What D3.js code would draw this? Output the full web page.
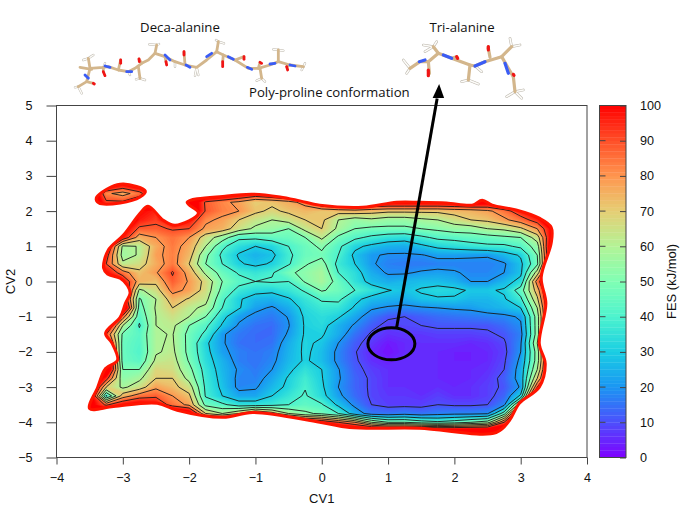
<!DOCTYPE html>
<html>
<head>
<meta charset="utf-8">
<script src="https://cdn.jsdelivr.net/npm/d3@7"></script>
<style>
  html, body { margin: 0; background: #fff; }
  svg { display: block; }
  text { font-family: "Liberation Sans", Arial, sans-serif; font-size: 13px; fill: #111; }
  .tick text { font-size: 12.6px; }
  .caption { font-family: "Open Sans", sans-serif; font-size: 13.2px; }
</style>
</head>
<body>
<svg width="681" height="512"></svg>
<script>
const cv1Ticks = [-4, -3, -2, -1, 0, 1, 2, 3, 4];
const cv2Ticks = [5, 4, 3, 2, 1, 0, -1, -2, -3, -4, -5];
const fesTicks = [0, 10, 20, 30, 40, 50, 60, 70, 80, 90, 100];
const fesContours = [10, 20, 30, 40, 50, 60, 70, 80, 90];
const fesStops = [0, 10, 20, 30, 40, 50, 60, 70, 80, 90, 100];
const fesColors = ['#8000ff', '#4d4ffc', '#1a96f3', '#1acee3', '#4df3ce', '#80ffb4', '#b3f396', '#e6ce74', '#ff964f', '#ff4f28', '#ff0000'];

// grid the FES was read on, 120 = outside the sampled region
const cv1Grid = d3.range(-3.75, 3.76, 0.25);
const cv2Grid = d3.range(3, -4.51, -0.25);
const fesRows = [
  [120,120,120,120,120,120,120,120,120,120,120,120,120,120,120,120,120,120,120,120,120,120,120,120,120,120,120,120,120,120,120],
  [120,120,110,100,110,120,120,120,120,120,120,120,120,120,120,120,120,120,120,120,120,120,120,120,120,120,120,120,120,120,120],
  [120,120,82,76,85,110,120,120,120,115,105,100,105,112,120,120,120,120,120,120,120,120,120,120,120,120,120,120,120,120,120],
  [120,120,92,92,100,120,120,115,88,82,78,70,72,76,84,105,112,112,106,104,104,104,104,105,108,105,115,120,120,120,120],
  [120,120,120,120,100,96,120,115,89,83,80,72,68,72,74,72,74,76,74,72,72,72,72,74,75,78,85,97,120,120,120],
  [120,120,120,120,97,92,108,98,82,78,70,64,60,64,70,72,60,55,58,55,55,58,60,65,70,72,78,85,95,120,120],
  [120,120,120,105,88,88,91,90,78,75,65,58,55,50,63,70,58,50,48,48,48,50,52,55,55,60,62,68,80,105,120],
  [120,120,120,98,75,80,85,80,65,55,42,42,45,46,50,62,48,42,38,35,34,38,42,43,45,46,48,50,65,110,120],
  [120,120,105,58,60.5,76,84,76,60,42,34,30,32,40,46,52,42,32,28,25,24,28,32,34,36,38,38,42,55,120,120],
  [120,120,95,56,61,78,83,74,52,38,29,25,28,38,46,48,40,28,21,19,19,19.5,22,22,21.5,21,26,31,50,120,120],
  [120,120,90,62,66,76,84,70,50,40,31,28,31,39,49,54,37,30,21,17,16,16,17,17,17,17,19,28,48,120,120],
  [120,120,100,85,72,79,91,76,58,46,39,36,39,48,53,58,40,34,24,19,19,21,22,21,18,18,20,28,65,120,120],
  [120,120,120,100,75,72,88,79,67,50,43,40,41,40,51,58,46,35,27,24,26,27,27,25,20,20,26,33,85,120,120],
  [120,120,120,110,58,66,83,78,66,47,37,33,32,36,41,51,47,40,35,30.5,28,31,33,32,29,29,31,45,75,120,120],
  [120,120,120,105,49,60,75,69,63,42,31,26,25,29,36,41,42,32,27,25,24,28,29,29,26,26,29,38,68,120,120],
  [120,120,120,120,46,61,70,62,58,40,31,22,19,24,33,37,36,29,21,19,18,19,20,21,21.5,24,26,30,60,120,120],
  [120,120,120,85,43,60,65,60,50,33,22,18,16,20.5,31.5,34,31,23,16,11,10,12,14,15,16,17,18,21,55,120,120],
  [120,120,110,60,39,60,62,50,42,29,19,15,14,19.5,31,33,25,19,12,8,9,10,11,11,11,11,14,19,55,120,120],
  [120,120,90,48,43,59,60.5,47,38,21,16,14,14,21,31,31,24,15,9,6,7,7,8,8,8,9,11,17,55,120,120],
  [120,120,105,46,42,59,61,47,32,21,15,14,15,24,31.5,28.5,20,12,7,3,5,6,6,6,5,6,9,19,60,120,120],
  [120,120,110,46,41,59,62,47,33,22,17,15,17,25,31.5,27,18,10.5,5,2,5,6,5,4,4,5,8,20,55,120,120],
  [120,120,120,46,43,62,64,49,34,25,17,15,18,26,31,27,18,11,6,4,6,6,5,4,4,5,9,22,55,120,120],
  [120,120,120,50,50,68,66,53,36,26,19,16,20,28,35,30,20.5,12,8,6,6,6,5,5,5,6,10,24,60,120,120],
  [120,120,95,53,58,70,70,57,37,27,18,17,23,31,38,30.5,21,13,9,6,6,6,5,5,5,7,12,24,70,120,120],
  [120,120,70,58,65,78,73,65,38,28,18,19,26,32,39.5,31.5,20,13,9,6,6,6,6,5,6,8,11,21,90,120,120],
  [120,115,38,75,85,88,80,72,39,30,23,23,30,36,41,33,22,14,9,7,7,6,8,6,6,8,13,32,120,120,120],
  [120,105,88,100,105,100,85,78,47,42,35,35,37,40,44,41,28,18,10,8,8,8,10,9,9,10,18,70,120,120,120],
  [120,120,120,120,120,120,120,110,70,60,70,85,75,60,52,48,40,25,16,15,17,15,17,18,18,19,45,120,120,120,120],
  [120,120,120,120,120,120,120,120,120,120,120,120,120,120,105,100,90,80,60,50,50,45,42,45,50,55,90,120,120,120,120],
  [120,120,120,120,120,120,120,120,120,120,120,120,120,120,120,120,120,120,120,120,120,120,120,120,120,120,120,120,120,120,120],
  [120,120,120,120,120,120,120,120,120,120,120,120,120,120,120,120,120,120,120,120,120,120,120,120,120,120,120,120,120,120,120]
];

// outline of the sampled region, CV1 / CV2
const mainEdge = [[-3.5,-3.61],[-3.38,-3.01],[-3.26,-2.47],[-3.08,-2.24],[-3.16,-1.76],[-3.26,-1.47],[-3.04,-1.02],[-2.96,-.62],[-2.89,-.33],[-2.93,-.11],[-3.04,.09],[-3.23,.21],[-3.29,.38],[-3.22,.89],[-2.99,1.32],[-2.74,1.94],[-2.62,2.14],[-2.39,1.74],[-2.21,1.6],[-1.86,1.94],[-2.03,2.25],[-1.43,2.43],[-1.04,2.48],[-.63,2.4],[-.33,2.29],[-.03,2.17],[.62,2.11],[1.13,2.25],[1.47,2.25],[1.88,2.23],[2.27,2.17],[2.42,2.31],[2.57,2.17],[2.93,2.03],[3.28,1.8],[3.46,1.54],[3.46,1.09],[3.31,.12],[3.38,-.62],[3.28,-1.76],[3.37,-2.33],[3.28,-3],[2.98,-3.46],[2.83,-3.95],[2.63,-4.29],[1.47,-4.17],[.42,-4.15],[-.03,-4],[-1.04,-3.72],[-1.49,-3.86],[-2.18,-3.66],[-2.48,-3.46],[-3.14,-3.55]];
const islandEdge = [[-3.4,2.37],[-3.18,2.68],[-2.99,2.77],[-2.66,2.57],[-2.74,2.4],[-3.04,2.23],[-3.36,2.23]];

// molecule drawings, in their own little units
const decaChain = [[55,230],[80,215],[85,195],[90,175],[130,172],[145,170],[175,180],[205,185],[225,175],[245,160],[265,150],[285,130],[315,140],[345,155],[375,165],[410,172],[440,150],[470,125],[490,135],[525,150],[565,175],[595,175],[630,165],[655,155],[690,165],[730,170]];
const decaSide = [[[285,130],[290,105]],[[235,170],[240,205]],[[470,125],[475,95]],[[600,175],[605,205]],[[655,155],[655,120]],[[90,175],[85,145]],[[60,172],[95,178]]];
const decaNitrogen = [[[135,168],[150,172]],[[200,185],[215,185]],[[315,135],[330,150]],[[378,165],[390,172]],[[440,140],[455,130]],[[505,140],[520,148]],[[562,172],[575,178]],[[630,162],[645,160]],[[690,165],[705,168]],[[75,195],[85,205]]];
const decaOxygen = [[[130,185],[135,197]],[[182,150],[182,160]],[[237,147],[238,155]],[[318,155],[320,165]],[[372,125],[372,135]],[[488,155],[488,170]],[[552,140],[552,148]],[[600,157],[605,160]],[[680,170],[683,180]],[[100,220],[103,222]]];
const decaHydrogen = [[70,150],[100,135],[45,232],[65,250],[135,160],[210,195],[268,103],[297,102],[228,208],[255,210],[345,170],[405,197],[415,195],[468,90],[492,100],[590,212],[615,215],[640,118],[670,122],[735,160],[725,180]];
const triChain = [[90,175],[120,155],[145,155],[175,130],[215,145],[270,165],[285,168],[315,155],[365,140],[385,175],[400,200],[405,245]];
const triSide = [[[175,130],[160,110]],[[145,155],[148,190]],[[270,165],[265,210]],[[365,140],[395,110]],[[330,142],[325,115]]];
const triNitrogen = [[[118,155],[135,150]],[[190,135],[215,145]],[[285,168],[315,155]],[[375,160],[385,190]]];
const triOxygen = [[[145,180],[145,197]],[[230,140],[233,145]],[[325,110],[325,120]],[[400,193],[402,196]]];
const triHydrogen = [[70,150],[80,190],[135,125],[130,105],[170,95],[245,215],[295,222],[305,185],[390,85],[420,105],[380,260],[425,265],[430,240]];

const svg = d3.select('svg');
const margin = { left: 56.5, right: 587, top: 105.5, bottom: 457.5 };

const xScale = d3.scaleLinear().domain([-4, 4]).range([margin.left, margin.right]);
const yScale = d3.scaleLinear().domain([-5, 5]).range([margin.bottom, margin.top]);
const fesColor = d3.scaleLinear().domain(fesStops).range(fesColors);

// d3.contours puts grid values at cell centres
const nx = cv1Grid.length;
const ny = cv2Grid.length;
const uToCv1 = d3.scaleLinear().domain([0.5, nx - 0.5]).range([cv1Grid[0], cv1Grid[nx - 1]]);
const vToCv2 = d3.scaleLinear().domain([0.5, ny - 0.5]).range([cv2Grid[0], cv2Grid[ny - 1]]);
const gridPath = d3.geoPath(d3.geoTransform({
  point(u, v) { this.stream.point(xScale(uToCv1(u)), yScale(vToCv2(v))); }
}));

// negated so every contour is the region below its level (outside stays white)
const negated = fesRows.flat().map(d => -d);
const contours = d3.contours().size([nx, ny]).smooth(true);

const edgeLine = d3.line().x(d => xScale(d[0])).y(d => yScale(d[1])).curve(d3.curveCatmullRomClosed.alpha(0.5));

const clip = svg.append('defs').append('clipPath').attr('id', 'region');
[mainEdge, islandEdge].forEach(edge => clip.append('path').attr('d', edgeLine(edge)));

const plot = svg.append('g').attr('clip-path', 'url(#region)');

plot.append('rect')
  .attr('x', margin.left).attr('y', margin.top)
  .attr('width', margin.right - margin.left).attr('height', margin.bottom - margin.top)
  .attr('fill', '#ff0000');

plot.selectAll('.level')
  .data(d3.range(100, 0, -1))
  .enter()
  .append('path')
  .classed('level', true)
  .attr('d', t => gridPath(contours.contour(negated, -t)))
  .attr('fill', t => fesColor(t - 0.5));

plot.selectAll('.isoline')
  .data(fesContours)
  .enter()
  .append('path')
  .classed('isoline', true)
  .attr('d', t => gridPath(contours.contour(negated, -t)))
  .attr('fill', 'none')
  .attr('stroke', '#1a1a1a')
  .attr('stroke-width', 0.9);

// red rim round the sampled region
svg.selectAll('.rim')
  .data([mainEdge, islandEdge])
  .enter()
  .append('path')
  .classed('rim', true)
  .attr('d', edgeLine)
  .attr('fill', 'none')
  .attr('stroke', '#ff1400')
  .attr('stroke-width', 3)
  .attr('stroke-linejoin', 'round');

const axisColor = '#444';

function styleAxis(g) {
  g.select('.domain').remove();
  g.selectAll('line').attr('stroke', axisColor);
  g.attr('font-size', null).attr('font-family', null);
}

svg.append('g')
  .attr('transform', `translate(0,${margin.bottom})`)
  .call(d3.axisBottom(xScale).tickValues(cv1Ticks).tickSize(7).tickPadding(9).tickFormat(d3.format('d')))
  .call(styleAxis);

svg.append('g')
  .attr('transform', `translate(${margin.left},0)`)
  .call(d3.axisLeft(yScale).tickValues(cv2Ticks).tickSize(10).tickPadding(14).tickFormat(d3.format('d')))
  .call(styleAxis);

svg.append('rect')
  .attr('x', margin.left).attr('y', margin.top)
  .attr('width', margin.right - margin.left).attr('height', margin.bottom - margin.top)
  .attr('fill', 'none').attr('stroke', axisColor);

// color bar
const barLeft = 599.5;
const barRight = 626;
const barScale = d3.scaleLinear().domain([0, 100]).range([margin.bottom, margin.top]);

svg.selectAll('.band')
  .data(d3.range(0, 100))
  .enter()
  .append('rect')
  .classed('band', true)
  .attr('x', barLeft)
  .attr('width', barRight - barLeft)
  .attr('y', d => barScale(d + 1))
  .attr('height', d => barScale(d) - barScale(d + 1) + 0.3)
  .attr('fill', d => fesColor(d + 0.5));

svg.append('g')
  .attr('transform', `translate(${barRight},0)`)
  .call(d3.axisRight(barScale).tickValues(fesTicks).tickSize(-6).tickPadding(14))
  .call(styleAxis);

svg.append('g')
  .selectAll('line')
  .data(fesTicks)
  .enter()
  .append('line')
  .attr('x1', barLeft).attr('x2', barLeft + 6)
  .attr('y1', d => barScale(d)).attr('y2', d => barScale(d))
  .attr('stroke', axisColor);

svg.append('rect')
  .attr('x', barLeft).attr('y', margin.top)
  .attr('width', barRight - barLeft).attr('height', margin.bottom - margin.top)
  .attr('fill', 'none').attr('stroke', axisColor);

// axis titles
svg.append('text').attr('x', xScale(0)).attr('y', 503).attr('text-anchor', 'middle').text('CV1');
svg.append('text').attr('transform', `translate(15,${yScale(0)}) rotate(-90)`).attr('text-anchor', 'middle').text('CV2');
svg.append('text').attr('transform', `translate(676,${yScale(0)}) rotate(-90)`).attr('text-anchor', 'middle').text('FES (kJ/mol)');

// molecules
function drawMolecule(originX, originY, chain, side, nitrogen, oxygen, hydrogen, width) {
  const mx = d3.scaleLinear().domain([0, 3]).range([originX, originX + 1]);
  const my = d3.scaleLinear().domain([0, 3]).range([originY, originY + 1]);
  const stick = d3.line().x(d => mx(d[0])).y(d => my(d[1]));
  const g = svg.append('g').attr('fill', 'none').attr('stroke-linecap', 'round').attr('stroke-linejoin', 'round');

  // hydrogens and oxygens hang off the nearest atom
  const atoms = chain.concat(side.map(s => s[1]));
  const nearest = d => d3.least(atoms, a => (a[0] - d[0]) ** 2 + (a[1] - d[1]) ** 2);

  g.selectAll('.h')
    .data(hydrogen)
    .enter()
    .append('path')
    .attr('d', d => stick([nearest(d), d]))
    .attr('stroke', '#bdb8ae')
    .attr('stroke-width', width * 0.85);
  g.selectAll('.hw')
    .data(hydrogen)
    .enter()
    .append('path')
    .attr('d', d => stick([nearest(d), d]))
    .attr('stroke', '#fdfcf9')
    .attr('stroke-width', width * 0.5);

  g.append('path').attr('d', stick(chain)).attr('stroke', '#d3b68c').attr('stroke-width', width);
  side.forEach(s => g.append('path').attr('d', stick(s)).attr('stroke', '#d3b68c').attr('stroke-width', width));
  oxygen.forEach(s => g.append('path').attr('d', stick([nearest(s[0]), s[0]])).attr('stroke', '#d3b68c').attr('stroke-width', width));
  nitrogen.forEach(s => g.append('path').attr('d', stick(s)).attr('stroke', '#3a5cf5').attr('stroke-width', width));
  oxygen.forEach(s => g.append('path').attr('d', stick(s)).attr('stroke', '#f01515').attr('stroke-width', width));
}

drawMolecule(60, 10, decaChain, decaSide, decaNitrogen, decaOxygen, decaHydrogen, 2.8);
drawMolecule(380, 10, triChain, triSide, triNitrogen, triOxygen, triHydrogen, 3.2);

svg.append('text').classed('caption', true).attr('x', 180).attr('y', 32).attr('text-anchor', 'middle').text('Deca-alanine');
svg.append('text').classed('caption', true).attr('x', 462).attr('y', 32).attr('text-anchor', 'middle').text('Tri-alanine');
svg.append('text').classed('caption', true).attr('x', 249).attr('y', 97).text('Poly-proline conformation');

// ellipse and arrow on the basin
svg.append('ellipse')
  .attr('cx', xScale(1.05)).attr('cy', yScale(-1.77))
  .attr('rx', 23.5).attr('ry', 16)
  .attr('fill', 'none').attr('stroke', '#000').attr('stroke-width', 3);

svg.append('line')
  .attr('x1', xScale(1.13)).attr('y1', yScale(-1.3))
  .attr('x2', xScale(1.74)).attr('y2', yScale(5.2))
  .attr('stroke', '#000').attr('stroke-width', 3);

const tip = [xScale(1.77), yScale(5.61)];
svg.append('path')
  .attr('d', `M${tip[0]},${tip[1]}L${tip[0] - 6.5},${tip[1] + 14}L${tip[0] + 5},${tip[1] + 14}Z`)
  .attr('fill', '#000');
</script>
</body>
</html>
